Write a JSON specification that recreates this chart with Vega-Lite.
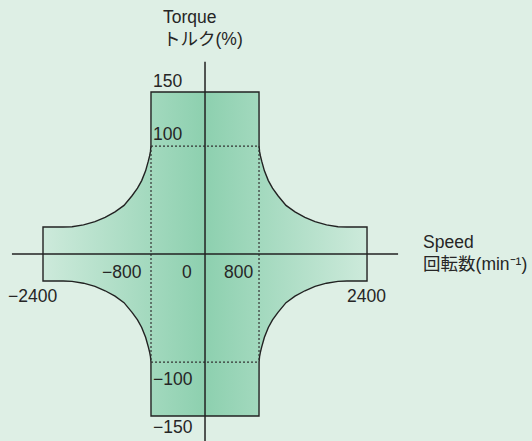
{
  "$schema": "https://vega.github.io/schema/vega-lite/v6.json",
  "width": 532,
  "height": 441,
  "autosize": "none",
  "padding": 0,
  "background": "#deefe5",
  "config": {"view": {"stroke": null}},
  "datasets": {
    "region": [
      {"speed": -2400, "top": 25, "bottom": -25},
      {"speed": -2100, "top": 25, "bottom": -25},
      {"speed": -1970, "top": 25.3, "bottom": -25.3},
      {"speed": -1800, "top": 27, "bottom": -27},
      {"speed": -1630, "top": 30, "bottom": -30},
      {"speed": -1480, "top": 34, "bottom": -34},
      {"speed": -1333, "top": 39, "bottom": -39},
      {"speed": -1200, "top": 45, "bottom": -45},
      {"speed": -1081, "top": 54, "bottom": -54},
      {"speed": -1000, "top": 61, "bottom": -61},
      {"speed": -938, "top": 68, "bottom": -68},
      {"speed": -880, "top": 77, "bottom": -77},
      {"speed": -840, "top": 86, "bottom": -86},
      {"speed": -820, "top": 91, "bottom": -91},
      {"speed": -808, "top": 95, "bottom": -95},
      {"speed": -801, "top": 100, "bottom": -100},
      {"speed": -800, "top": 150, "bottom": -150},
      {"speed": 800, "top": 150, "bottom": -150},
      {"speed": 801, "top": 100, "bottom": -100},
      {"speed": 808, "top": 95, "bottom": -95},
      {"speed": 820, "top": 91, "bottom": -91},
      {"speed": 840, "top": 86, "bottom": -86},
      {"speed": 880, "top": 77, "bottom": -77},
      {"speed": 938, "top": 68, "bottom": -68},
      {"speed": 1000, "top": 61, "bottom": -61},
      {"speed": 1081, "top": 54, "bottom": -54},
      {"speed": 1200, "top": 45, "bottom": -45},
      {"speed": 1333, "top": 39, "bottom": -39},
      {"speed": 1480, "top": 34, "bottom": -34},
      {"speed": 1630, "top": 30, "bottom": -30},
      {"speed": 1800, "top": 27, "bottom": -27},
      {"speed": 1970, "top": 25.3, "bottom": -25.3},
      {"speed": 2100, "top": 25, "bottom": -25},
      {"speed": 2400, "top": 25, "bottom": -25}
    ],
    "dashes": [
      {"x": -800, "x2": -800, "y": 100, "y2": -100},
      {"x": 800, "x2": 800, "y": 100, "y2": -100},
      {"x": -800, "x2": 800, "y": 100, "y2": 100},
      {"x": -800, "x2": 800, "y": -100, "y2": -100}
    ],
    "axes": [
      {"x": -2860, "x2": 2860, "y": 0, "y2": 0},
      {"x": 0, "x2": 0, "y": 178, "y2": -174}
    ],
    "labels": [
      {"text": "150", "x": -770, "y": 154.6},
      {"text": "100", "x": -770, "y": 105.6},
      {"text": "−100", "x": -770, "y": -121.3},
      {"text": "−150", "x": -770, "y": -165.7},
      {"text": "−2400", "x": -2919, "y": -44.4},
      {"text": "−800", "x": -1526, "y": -22.2},
      {"text": "0", "x": -341, "y": -22.2},
      {"text": "800", "x": 281, "y": -22.2},
      {"text": "2400", "x": 2104, "y": -44.4},
      {"text": "Torque", "x": -622, "y": 213.9},
      {"text": "トルク(%)", "x": -622, "y": 193.5},
      {"text": "Speed", "x": 3230, "y": 5.6},
      {"text": "回転数(min⁻¹)", "x": 3230, "y": -14.8}
    ]
  },
  "layer": [
    {
      "data": {"name": "region"},
      "mark": {
        "type": "area",
        "fill": {
          "gradient": "linear",
          "x1": 0, "y1": 0, "x2": 1, "y2": 0,
          "stops": [
            {"offset": 0, "color": "#cdeadb"},
            {"offset": 0.5, "color": "#8dd0af"},
            {"offset": 1, "color": "#cdeadb"}
          ]
        },
        "stroke": "#222222",
        "strokeWidth": 1.4,
        "opacity": 1
      },
      "encoding": {
        "x": {"field": "speed", "type": "quantitative", "scale": {"domain": [-3037, 4844], "nice": false, "zero": false}, "axis": null},
        "y": {"field": "top", "type": "quantitative", "scale": {"domain": [-173.1, 235.2], "nice": false, "zero": false}, "axis": null},
        "y2": {"field": "bottom"}
      }
    },
    {
      "data": {"name": "dashes"},
      "mark": {"type": "rule", "color": "#333333", "strokeWidth": 1.2, "strokeDash": [2, 2]},
      "encoding": {
        "x": {"field": "x", "type": "quantitative"},
        "x2": {"field": "x2"},
        "y": {"field": "y", "type": "quantitative"},
        "y2": {"field": "y2"}
      }
    },
    {
      "data": {"name": "axes"},
      "mark": {"type": "rule", "color": "#222222", "strokeWidth": 1.5},
      "encoding": {
        "x": {"field": "x", "type": "quantitative"},
        "x2": {"field": "x2"},
        "y": {"field": "y", "type": "quantitative"},
        "y2": {"field": "y2"}
      }
    },
    {
      "data": {"name": "labels"},
      "mark": {"type": "text", "align": "left", "baseline": "alphabetic", "fontSize": 17.5, "font": "Liberation Sans, Noto Sans CJK JP, sans-serif", "color": "#262626"},
      "encoding": {
        "x": {"field": "x", "type": "quantitative"},
        "y": {"field": "y", "type": "quantitative"},
        "text": {"field": "text"}
      }
    }
  ]
}
